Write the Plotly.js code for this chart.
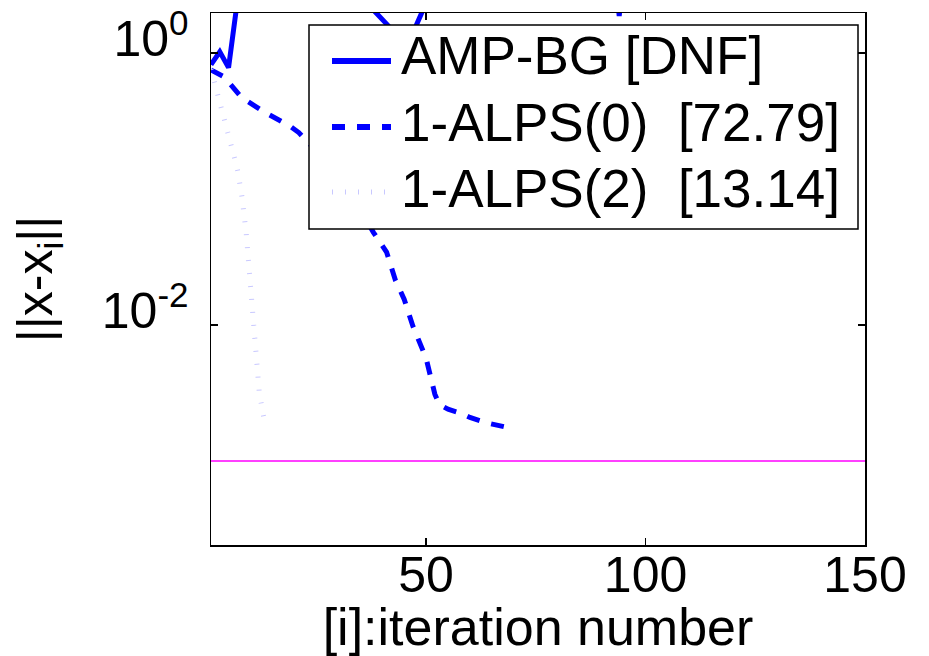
<!DOCTYPE html>
<html><head><meta charset="utf-8">
<script src="https://cdn.plot.ly/plotly-3.0.1.min.js"></script>
<style>html,body{margin:0;padding:0;background:#fff}</style>
</head><body>
<div id="chart" style="width:929px;height:656px"></div>
<script>
// AMP-BG (did not finish; mostly above the visible range)
const ampIter = [1,3,5,7,10,15,20,25,30,34,37,42,44,47,50,55,60,70,80,90,93,94,95,100,110,120,130,140,150];
const ampErr  = [0.82,1.02,0.78,2.4,6,15,9,20,12,5,2.24,1.51,1.15,1.40,2.34,8,25,60,30,12,4,1.87,4,15,40,25,70,35,50];
// 1-ALPS(0)
const alps0Iter = [1,4,8,13,19,21,25,30,34,38,41,43,45,47,50,51,52,53,55,58,60,64,66,69];
const alps0Err  = [0.75,0.667,0.47,0.37,0.29,0.26,0.19,0.12,0.08,0.048,0.0344,0.0214,0.0155,0.0098,0.0057,0.0042,0.0031,0.0026,0.0024,0.00224,0.00209,0.0019,0.00184,0.00175];
// 1-ALPS(2)
const alps2Iter = [1,2,3,4,5,6,7,8,9,10,11,12,13];
const alps2Err  = [0.76,0.567,0.425,0.317,0.241,0.19,0.141,0.0903,0.0483,0.0194,0.0069,0.00318,0.0021];
// tolerance level
const tolIter = [1,150];
const tolErr  = [1e-3,1e-3];

const seriesNames = ['AMP-BG [DNF]', '1-ALPS(0)\u00a0\u00a0[72.79]', '1-ALPS(2)\u00a0\u00a0[13.14]'];
const xTicks = [50,100,150];
const yTickVals = [1, 0.01];
const yTickText = ['10<sup>0</sup>', '10<sup>-2</sup>'];

const FONT = 'Liberation Sans, Arial, Helvetica, sans-serif';
const BLUE = '#0000ff';
const LIGHT = 'rgb(200,200,255)';

const styles = [
  {color: BLUE, width: 5, dash: 'solid'},
  {color: BLUE, width: 5, dash: '13px,12px'},
  {color: LIGHT, width: 5, dash: '1px,12px'}
];

const traces = [
  {x: tolIter, y: tolErr, mode: 'lines', line: {color: '#ff00ff', width: 1.5}, showlegend: false, hoverinfo: 'skip'},
  {x: ampIter, y: ampErr, name: seriesNames[0], mode: 'lines', line: styles[0], showlegend: false},
  {x: alps0Iter, y: alps0Err, name: seriesNames[1], mode: 'lines', line: styles[1], showlegend: false},
  {x: alps2Iter, y: alps2Err, name: seriesNames[2], mode: 'lines', line: styles[2], showlegend: false}
];

// hand-built legend box (MATLAB style)
const W = 654, H = 532, L = 211, T = 13;
const px = v => (v - L) / W;
const py = v => (T + H - v) / H;
const legRowY = [61, 127, 192];
const legTextY = [56, 122, 188];
const shapes = [
  {type: 'rect', xref: 'paper', yref: 'paper', x0: px(309), x1: px(858), y0: py(229), y1: py(25),
   fillcolor: '#fff', line: {color: '#000', width: 1.5}, layer: 'above'}
];
const annotations = [];
seriesNames.forEach((nm, i) => {
  shapes.push({type: 'line', xref: 'paper', yref: 'paper', x0: px(332), x1: px(391), y0: py(legRowY[i]), y1: py(legRowY[i]),
    line: {color: styles[i].color, width: i === 2 ? 5 : 6, dash: styles[i].dash}, layer: 'above'});
  annotations.push({xref: 'paper', yref: 'paper', x: px(399), y: py(legTextY[i]), xanchor: 'left', yanchor: 'middle',
    text: nm, showarrow: false, font: {family: FONT, size: 53, color: '#000'}});
});

const axisCommon = {
  showline: true, linecolor: '#000', linewidth: 1.5, mirror: 'ticks',
  ticks: 'inside', ticklen: 7, tickwidth: 1.5, tickcolor: '#000',
  showgrid: false, zeroline: false,
  tickfont: {family: FONT, size: 50, color: '#000'}
};

const layout = {
  width: 929, height: 656,
  margin: {l: L, r: 929 - L - W, t: T, b: 656 - T - H, pad: 0},
  paper_bgcolor: '#fff', plot_bgcolor: '#fff',
  font: {family: FONT, color: '#000'},
  showlegend: false,
  xaxis: Object.assign({}, axisCommon, {
    range: [1, 150], tickmode: 'array', tickvals: xTicks, ticklabelstandoff: -15,
    title: {text: '[i]:iteration number', font: {family: FONT, size: 52, color: '#000'}, standoff: 26}
  }),
  yaxis: Object.assign({}, axisCommon, {
    type: 'log', range: [-3.618, 0.294], tickmode: 'array', tickvals: yTickVals, ticktext: yTickText,
    ticklabelstandoff: 11, ticklabelshift: -14,
    title: {text: '||x-x<sub>i</sub>||', font: {family: FONT, size: 50, color: '#000'}, standoff: 33}
  }),
  shapes: shapes,
  annotations: annotations
};

Plotly.newPlot('chart', traces, layout, {displayModeBar: false, staticPlot: true});
</script>
</body></html>
